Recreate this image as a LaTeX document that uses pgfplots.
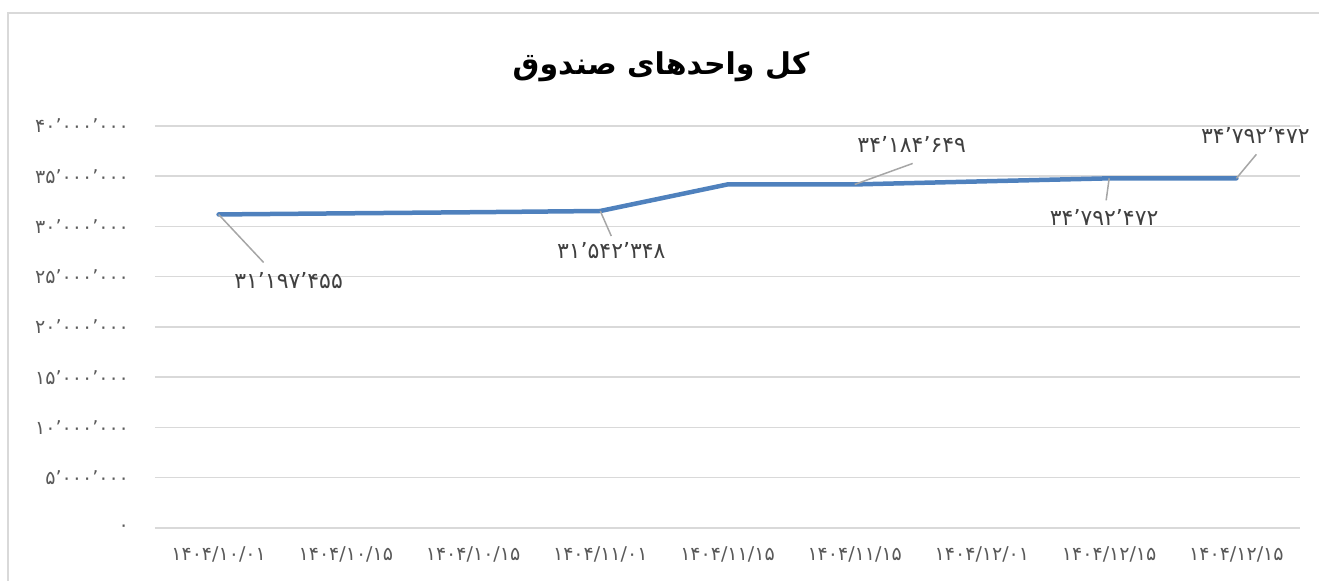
\documentclass[border=0pt]{standalone}
\usepackage{pgfplots}
\pgfplotsset{compat=1.18}
\usepackage{fontspec}
\setmainfont{DejaVu Sans}
\TeXXeTstate=1
\newfontfamily\arabicfont[Script=Arabic]{DejaVu Sans}
\newfontfamily\numfont{DejaVu Sans}
\definecolor{lineblue}{RGB}{79,129,189}
\definecolor{gridgray}{RGB}{217,217,217}
\definecolor{ticktext}{RGB}{89,89,89}
\definecolor{leadergray}{RGB}{166,166,166}
\definecolor{labeltext}{RGB}{64,64,64}
\begin{document}
\begin{tikzpicture}
\useasboundingbox (-77.5pt,-26.5pt) rectangle (582pt,264pt);
\draw[gridgray, line width=0.75pt] (-73.5pt,-30pt) -- (-73.5pt,257.5pt) -- (590pt,257.5pt);
\begin{axis}[
  scale only axis, width=572.5pt, height=201pt,
  xmin=-0.5, xmax=8.5, ymin=0, ymax=40000000,
  xtick={0,...,8},
  xticklabels={۱۴۰۴/۱۰/۰۱,۱۴۰۴/۱۰/۱۵,۱۴۰۴/۱۰/۱۵,۱۴۰۴/۱۱/۰۱,۱۴۰۴/۱۱/۱۵,۱۴۰۴/۱۱/۱۵,۱۴۰۴/۱۲/۰۱,۱۴۰۴/۱۲/۱۵,۱۴۰۴/۱۲/۱۵},
  ytick={0,5000000,10000000,15000000,20000000,25000000,30000000,35000000,40000000},
  yticklabels={۰,۵’۰۰۰’۰۰۰,۱۰’۰۰۰’۰۰۰,۱۵’۰۰۰’۰۰۰,۲۰’۰۰۰’۰۰۰,۲۵’۰۰۰’۰۰۰,۳۰’۰۰۰’۰۰۰,۳۵’۰۰۰’۰۰۰,۴۰’۰۰۰’۰۰۰},
  scaled y ticks=false,
  axis line style={draw=none},
  major tick length=0pt,
  ymajorgrids, grid style={gridgray, line width=0.75pt},
  xticklabel style={font=\numfont\fontsize{9.5}{10}\selectfont, text=ticktext, yshift=-6pt},
  yticklabel style={font=\numfont\fontsize{9.5}{10}\selectfont, text=ticktext, xshift=-9.5pt},
  clip=false,
]
\addplot[lineblue, line width=2.25pt, line join=round, line cap=round, mark=none] table {
x y
0 31197455
1 31310000
2 31420000
3 31542348
4 34184649
5 34184649
6 34490000
7 34792472
8 34792472
};
\draw[leadergray, line width=0.75pt] (axis cs:0,31197455) -- ++(22.5pt,-24pt);
\node[text=labeltext, font=\numfont\fontsize{11}{12}\selectfont, xshift=35pt, yshift=-33pt] at (axis cs:0,31197455) {۳۱’۱۹۷’۴۵۵};
\draw[leadergray, line width=0.75pt] (axis cs:3,31542348) -- ++(5.5pt,-12.5pt);
\node[text=labeltext, font=\numfont\fontsize{11}{12}\selectfont, xshift=5.5pt, yshift=-20pt] at (axis cs:3,31542348) {۳۱’۵۴۲’۳۴۸};
\draw[leadergray, line width=0.75pt] (axis cs:5,34184649) -- ++(29pt,10.5pt);
\node[text=labeltext, font=\numfont\fontsize{11}{12}\selectfont, xshift=28.5pt, yshift=20pt] at (axis cs:5,34184649) {۳۴’۱۸۴’۶۴۹};
\draw[leadergray, line width=0.75pt] (axis cs:7,34792472) -- ++(-1.5pt,-11pt);
\node[text=labeltext, font=\numfont\fontsize{11}{12}\selectfont, xshift=-2.5pt, yshift=-19.5pt] at (axis cs:7,34792472) {۳۴’۷۹۲’۴۷۲};
\draw[leadergray, line width=0.75pt] (axis cs:8,34792472) -- ++(10pt,12pt);
\node[text=labeltext, font=\numfont\fontsize{11}{12}\selectfont, xshift=9.5pt, yshift=21.5pt] at (axis cs:8,34792472) {۳۴’۷۹۲’۴۷۲};
\end{axis}
\node[font=\arabicfont\bfseries\fontsize{15}{18}\selectfont] at (253pt,230.5pt) {\beginR کل واحدهای صندوق\endR};
\end{tikzpicture}
\end{document}
